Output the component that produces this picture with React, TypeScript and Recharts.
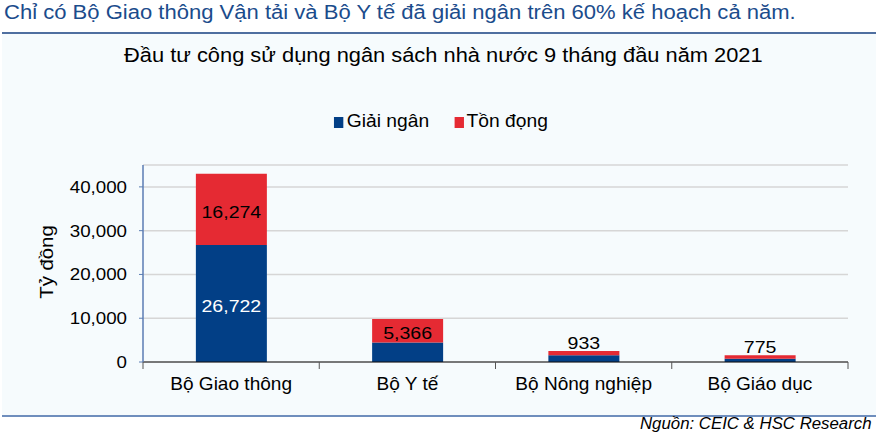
import React from "react";
import { Bar, BarChart, CartesianGrid, XAxis, YAxis, LabelList } from "recharts";

const categories = ["Bộ Giao thông", "Bộ Y tế", "Bộ Nông nghiệp", "Bộ Giáo dục"];
const disbursed = [26722, 4450, 1570, 750];
const outstanding = [16274, 5366, 933, 775];
const yTicks = [0, 10000, 20000, 30000, 40000];
const seriesNames = ["Giải ngân", "Tồn đọng"];

const BLUE = "#023F86";
const RED = "#E52A33";
const FONT = "'Liberation Sans', Arial, sans-serif";

const data = categories.map((name, i) => ({
  name,
  disbursed: disbursed[i],
  outstanding: outstanding[i],
}));

const fmt = (v: number) => v.toLocaleString("en-US");

// the source font is a bit wider than Arial, so text gets a small horizontal stretch
const SText = ({ x, y, sx = 1.1, anchor = "middle", size = 17, fill = "#000", children }: any) => (
  <text
    transform={`translate(${x},${y}) scale(${sx},1)`}
    textAnchor={anchor}
    fontSize={size}
    fill={fill}
    fontFamily={FONT}
  >
    {children}
  </text>
);

// x-axis label plus a tick mark on the left edge of each category band
const CategoryTick = (props: any) => {
  const { x, y, payload, index } = props;
  const half = 705 / categories.length / 2;
  return (
    <g>
      <line x1={x - half} y1={y - 8} x2={x - half} y2={y - 1} stroke="#555" />
      {index === categories.length - 1 && (
        <line x1={x + half} y1={y - 8} x2={x + half} y2={y - 1} stroke="#555" />
      )}
      <SText x={x} y={y + 20} size={18} sx={1.06}>
        {payload.value}
      </SText>
    </g>
  );
};

const ValueTick = (props: any) => {
  const { x, y, payload } = props;
  return (
    <SText x={x} y={y + 6} size={16.3} sx={1.15} anchor="end">
      {fmt(payload.value)}
    </SText>
  );
};

// tồn đọng label: inside the segment when tall enough, otherwise above it
const OutstandingLabel = (props: any) => {
  const { x, y, width, height, value } = props;
  const inside = height > 20;
  return (
    <SText x={x + width / 2} y={inside ? y + height / 2 + 8.5 : y - 2.5} size={17} sx={1.15}>
      {fmt(value)}
    </SText>
  );
};

const DisbursedLabel = (props: any) => {
  const { x, y, width, height, value } = props;
  if (height < 40) return null;
  return (
    <SText x={x + width / 2} y={y + height / 2 + 8.5} size={17} sx={1.15} fill="#fff">
      {fmt(value)}
    </SText>
  );
};

export default function App() {
  return (
    <div
      style={{
        position: "fixed",
        left: 0,
        top: 0,
        width: 886,
        height: 437,
        background: "#fff",
        fontFamily: FONT,
        overflow: "hidden",
      }}
    >
      <div
        style={{
          position: "absolute",
          left: 4,
          top: 1,
          fontSize: 19.5,
          color: "#1B4C8C",
          whiteSpace: "nowrap",
          transform: "scaleX(1.13)",
          transformOrigin: "left top",
        }}
      >
        Chỉ có Bộ Giao thông Vận tải và Bộ Y tế đã giải ngân trên 60% kế hoạch cả năm.
      </div>
      <div
        style={{
          position: "absolute",
          left: 2,
          top: 32,
          width: 874,
          height: 381,
          background: "#F6FBFD",
          borderTop: "2px solid #4F6FA0",
          borderBottom: "2px solid #6F8EBD",
        }}
      />
      <div
        style={{
          position: "absolute",
          left: 0,
          width: 886,
          top: 44,
          textAlign: "center",
          fontSize: 19.5,
          color: "#000",
          whiteSpace: "nowrap",
          transform: "scaleX(1.12)",
          transformOrigin: "440px top",
        }}
      >
        Đầu tư công sử dụng ngân sách nhà nước 9 tháng đầu năm 2021
      </div>
      <div
        style={{
          position: "absolute",
          left: 0,
          width: 886,
          top: 110,
          display: "flex",
          justifyContent: "center",
          gap: 24,
          fontSize: 18.5,
          color: "#000",
          transform: "translateX(-2px) scaleX(1.04)",
          transformOrigin: "441px top",
        }}
      >
        {seriesNames.map((n, i) => (
          <span key={n} style={{ display: "flex", alignItems: "center" }}>
            <span
              style={{
                display: "inline-block",
                width: 9,
                height: 11,
                background: i === 0 ? BLUE : RED,
                marginRight: 3,
                marginTop: 2,
              }}
            />
            {n}
          </span>
        ))}
      </div>
      <div
        style={{
          position: "absolute",
          left: 14,
          top: 262,
          transform: "translate(0, -50%) rotate(-90deg) scaleX(1.1)",
          transformOrigin: "center",
          fontSize: 18.5,
          color: "#000",
          whiteSpace: "nowrap",
        }}
      >
        Tỷ đồng
      </div>
      <div style={{ position: "absolute", left: 0, top: 0 }}>
        <BarChart
          width={886}
          height={437}
          data={data}
          margin={{ top: 165, right: 38, bottom: 45, left: 83 }}
          barCategoryGap="30%"
        >
          <CartesianGrid horizontal vertical={false} stroke="#D6D6D6" strokeWidth={1.5} />
          <XAxis
            dataKey="name"
            height={30}
            axisLine={{ stroke: "#111" }}
            tickLine={false}
            tick={<CategoryTick />}
            interval={0}
          />
          <YAxis
            width={60}
            domain={[0, 45000]}
            ticks={yTicks}
            axisLine={{ stroke: "#5B7DB3", strokeWidth: 1.5 }}
            tickLine={{ stroke: "#5B7DB3" }}
            tickSize={4}
            tickMargin={12}
            tick={<ValueTick />}
          />
          <Bar dataKey="disbursed" name={seriesNames[0]} stackId="a" fill={BLUE} isAnimationActive={false}>
            <LabelList dataKey="disbursed" content={<DisbursedLabel />} />
          </Bar>
          <Bar dataKey="outstanding" name={seriesNames[1]} stackId="a" fill={RED} isAnimationActive={false}>
            <LabelList dataKey="outstanding" content={<OutstandingLabel />} />
          </Bar>
        </BarChart>
      </div>
      <div
        style={{
          position: "absolute",
          right: 14,
          top: 415,
          fontSize: 16,
          fontStyle: "italic",
          color: "#000",
          whiteSpace: "nowrap",
          transform: "scaleX(1.05)",
          transformOrigin: "right top",
        }}
      >
        Nguồn: CEIC &amp; HSC Research
      </div>
    </div>
  );
}
